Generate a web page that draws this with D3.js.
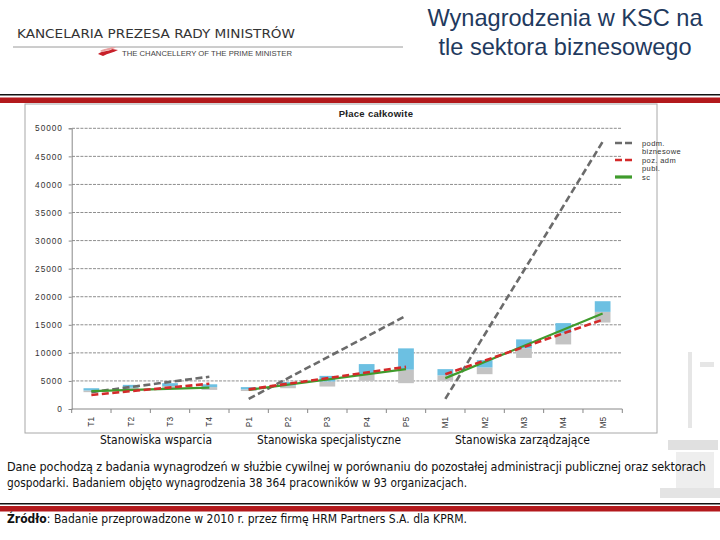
<!DOCTYPE html>
<html>
<head>
<meta charset="utf-8">
<script src="https://cdn.jsdelivr.net/npm/d3@7/dist/d3.min.js"></script>
<style>
  html, body { margin: 0; padding: 0; background: #fff; }
  svg { display: block; }
</style>
</head>
<body>
<svg id="c" width="720" height="540"></svg>
<script>
// ---------------- data ----------------
const categories = ["T1","T2","T3","T4","P1","P2","P3","P4","P5","M1","M2","M3","M4","M5"];
const groupNames = ["Stanowiska wsparcia","Stanowiska specjalistyczne","Stanowiska zarządzające"];
const groupFirst = ["T1","P1","M1"];
const groupLast  = ["T4","P5","M5"];
// floating bars: lower part (gray) from low to mid, upper part (blue) from mid to high
const lowValues  = [3000,3400,3700,3400, 3200,3700,4000,5000,4600, 5000,6200,9100,11500,15400];
const midValues  = [3300,3800,4100,3900, 3500,4200,4900,6200,7000, 6000,7400,10800,13500,17300];
const highValues = [3700,4300,4600,4400, 3900,4800,5900,8000,10800, 7100,8700,12400,15300,19200];
// trend lines per group: [value at first category, value at last category]
const bizTrend = [[3000,5750],[1800,16600],[1800,47600]];
const admTrend = [[2500,4500],[3500,7500],[6200,15900]];
const scTrend  = [[3200,3800],[3400,7100],[5500,17000]];
const yTicks = [0,5000,10000,15000,20000,25000,30000,35000,40000,45000,50000];
const legendItems = [
  {lines:["podm.","biznesowe"], key:"biz"},
  {lines:["poz. adm","publ."], key:"adm"},
  {lines:["sc"], key:"sc"}
];
const chartTitle = "Płace całkowite";
const pageTitle = ["Wynagrodzenia w KSC na","tle sektora biznesowego"];
const noteLines = [
  "Dane pochodzą z badania wynagrodzeń w służbie cywilnej w porównaniu do pozostałej administracji publicznej oraz sektorach",
  "gospodarki. Badaniem objęto wynagrodzenia 38 364 pracowników w 93 organizacjach."
];

// ---------------- styles ----------------
const seriesStyle = {
  biz: {color:"#6b6b6b", width:2.6, dash:"7,3.5"},
  adm: {color:"#d42a2a", width:2.6, dash:"7,3.5"},
  sc:  {color:"#3f9b2c", width:2.2, dash:null}
};
const narrow = "'Liberation Sans Narrow','Arial Narrow','DejaVu Sans Condensed',sans-serif";
const sans = "'Liberation Sans',Arial,sans-serif";

const svg = d3.select("#c");

// ---------------- header ----------------
svg.append("text").attr("x",17).attr("y",38)
  .attr("font-family","'DejaVu Sans Condensed','Liberation Sans',sans-serif")
  .attr("font-size",13).attr("fill","#333")
  .attr("textLength",278).attr("lengthAdjust","spacingAndGlyphs")
  .text("KANCELARIA PREZESA RADY MINISTRÓW");
svg.append("line").attr("x1",13).attr("x2",403).attr("y1",47).attr("y2",47)
  .attr("stroke","#9a9a9a").attr("stroke-width",1);
// small flag mark
svg.append("path").attr("d","M98,54 C103,50 108,52 112,49 L118,50 C113,53 108,53 103,56 Z").attr("fill","#c8202a");
svg.append("path").attr("d","M100,51 C104,48 108,49 112,47 L116,47.5 C112,50 107,50 102,52 Z").attr("fill","#e8a0a0");
svg.append("text").attr("x",122).attr("y",56)
  .attr("font-family",sans).attr("font-size",7).attr("fill","#444")
  .attr("textLength",170).attr("lengthAdjust","spacingAndGlyphs")
  .text("THE CHANCELLERY OF THE PRIME MINISTER");

svg.selectAll("text.ptitle").data(pageTitle).join("text")
  .attr("class","ptitle")
  .attr("x",565).attr("y",(d,i)=>26+i*29)
  .attr("text-anchor","middle")
  .attr("font-family",sans).attr("font-size",23.6).attr("fill","#1f3a5e")
  .text(d=>d);

// separator lines
svg.append("rect").attr("x",0).attr("y",94).attr("width",720).attr("height",1.5).attr("fill","#111");
svg.append("rect").attr("x",0).attr("y",97.5).attr("width",720).attr("height",5.5).attr("fill","#b3191c");

// decorative faint picture at right
const deco = svg.append("g").attr("fill","#e6e6e6");
deco.append("rect").attr("x",688).attr("y",352).attr("width",4).attr("height",76);
deco.append("rect").attr("x",700).attr("y",362).attr("width",14).attr("height",5);
deco.append("rect").attr("x",668).attr("y",440).attr("width",50).attr("height",10).attr("fill","#e0e0e0");
deco.append("rect").attr("x",676).attr("y",452).attr("width",38).attr("height",40).attr("fill","#eeeeee");
deco.append("rect").attr("x",660).attr("y",488).attr("width",60).attr("height",10).attr("fill","#e4e4e4");

// ---------------- chart frame ----------------
svg.append("rect").attr("x",25).attr("y",104).attr("width",632).attr("height",329)
  .attr("fill","#fff").attr("stroke","#a8a8a8").attr("stroke-width",1);

const y = d3.scaleLinear().domain([0,50000]).range([409,128.3]);
const x = d3.scaleBand().domain(categories).range([71.7,622.3]).padding(0);
const bw = x.bandwidth()*0.4;
const cx = c => x(c) + x.bandwidth()/2;

svg.append("text").attr("x",376).attr("y",117).attr("text-anchor","middle")
  .attr("font-family",sans).attr("font-weight","bold").attr("font-size",9.5)
  .attr("letter-spacing",0.3).attr("fill","#222").text(chartTitle);

// gridlines
svg.append("g").selectAll("line").data(yTicks.filter(v=>v>0)).join("line")
  .attr("x1",72).attr("x2",622).attr("y1",d=>y(d)).attr("y2",d=>y(d))
  .attr("stroke","#8e8e8e").attr("stroke-width",1).attr("stroke-dasharray","3,1.2");

// y axis
const yAxis = svg.append("g").attr("transform","translate(71.7,0)")
  .call(d3.axisLeft(y).tickValues(yTicks).tickSize(3).tickFormat(d3.format("d")));
yAxis.select(".domain").attr("stroke","#888");
yAxis.selectAll(".tick line").attr("stroke","#888");
yAxis.selectAll(".tick text").attr("font-family",sans).attr("font-size",8.3)
  .attr("letter-spacing",0.9).attr("fill","#333").attr("x",-9);

// x axis line + boundary ticks
const bounds = categories.map(c=>x(c)).concat([x.range()[1]]);
svg.append("line").attr("x1",71.7).attr("x2",622.3).attr("y1",409).attr("y2",409)
  .attr("stroke","#888");
svg.append("g").selectAll("line").data(bounds).join("line")
  .attr("x1",d=>d).attr("x2",d=>d).attr("y1",409).attr("y2",413).attr("stroke","#888");
svg.append("g").selectAll("text").data(categories).join("text")
  .attr("transform",d=>`translate(${cx(d)+3},417) rotate(-90)`)
  .attr("text-anchor","end")
  .attr("font-family",sans).attr("font-size",8.3).attr("fill","#333")
  .text(d=>d);

// bars
const barData = categories.map((c,i)=>({c, lo:lowValues[i], mid:midValues[i], hi:highValues[i]}));
svg.append("g").selectAll("rect").data(barData).join("rect")
  .attr("x",d=>cx(d.c)-bw/2).attr("width",bw)
  .attr("y",d=>y(d.mid)).attr("height",d=>y(d.lo)-y(d.mid))
  .attr("fill","#c3c3c3");
svg.append("g").selectAll("rect").data(barData).join("rect")
  .attr("x",d=>cx(d.c)-bw/2).attr("width",bw)
  .attr("y",d=>y(d.hi)).attr("height",d=>y(d.mid)-y(d.hi))
  .attr("fill","#6cc0e2");

// trend lines
function drawTrend(data, key){
  const st = seriesStyle[key];
  svg.append("g").selectAll("line").data(data).join("line")
    .attr("x1",(d,i)=>cx(groupFirst[i])).attr("x2",(d,i)=>cx(groupLast[i]))
    .attr("y1",d=>y(d[0])).attr("y2",d=>y(d[1]))
    .attr("stroke",st.color).attr("stroke-width",st.width)
    .attr("stroke-dasharray",st.dash);
}
drawTrend(bizTrend,"biz");
drawTrend(scTrend,"sc");
drawTrend(admTrend,"adm");

// legend
let ly = 143;
const lg = svg.append("g");
legendItems.forEach(item=>{
  const st = seriesStyle[item.key];
  lg.append("line").attr("x1",615).attr("x2",632).attr("y1",ly).attr("y2",ly)
    .attr("stroke",st.color).attr("stroke-width",st.dash?2.6:3.2)
    .attr("stroke-dasharray",st.dash?"7,3":null);
  item.lines.forEach((t,j)=>{
    lg.append("text").attr("x",642).attr("y",ly+2.5+j*8)
      .attr("font-family",sans).attr("font-size",7.5).attr("letter-spacing",0.4)
      .attr("fill","#333").text(t);
  });
  ly += item.lines.length*8 + 1;
});

// group labels
const groupWidths = [112,144,135];
const groupCentersPx = [156,329,522.5];
svg.append("g").selectAll("text").data(groupNames).join("text")
  .attr("x",(d,i)=>groupCentersPx[i]).attr("y",444)
  .attr("text-anchor","middle")
  .attr("font-family",narrow).attr("font-size",12.5).attr("fill","#111")
  .attr("textLength",(d,i)=>groupWidths[i]).attr("lengthAdjust","spacingAndGlyphs")
  .text(d=>d);

// notes
svg.append("text").attr("x",7).attr("y",471)
  .attr("font-family",narrow).attr("font-size",12.5).attr("fill","#111")
  .attr("textLength",699).attr("lengthAdjust","spacing")
  .text(noteLines[0]);
svg.append("text").attr("x",7).attr("y",487)
  .attr("font-family",narrow).attr("font-size",12.5).attr("fill","#111")
  .attr("textLength",460).attr("lengthAdjust","spacingAndGlyphs")
  .text(noteLines[1]);

svg.append("rect").attr("x",0).attr("y",503).attr("width",720).attr("height",1.5).attr("fill","#111");
svg.append("rect").attr("x",0).attr("y",506).attr("width",720).attr("height",5.5).attr("fill","#b3191c");

const src = svg.append("text").attr("x",7).attr("y",523)
  .attr("font-family",narrow).attr("font-size",12.5).attr("fill","#111")
  .attr("textLength",460).attr("lengthAdjust","spacingAndGlyphs");
src.append("tspan").attr("font-weight","bold").text("Źródło");
src.append("tspan").text(": Badanie przeprowadzone w 2010 r. przez firmę HRM Partners S.A. dla KPRM.");
</script>
</body>
</html>
